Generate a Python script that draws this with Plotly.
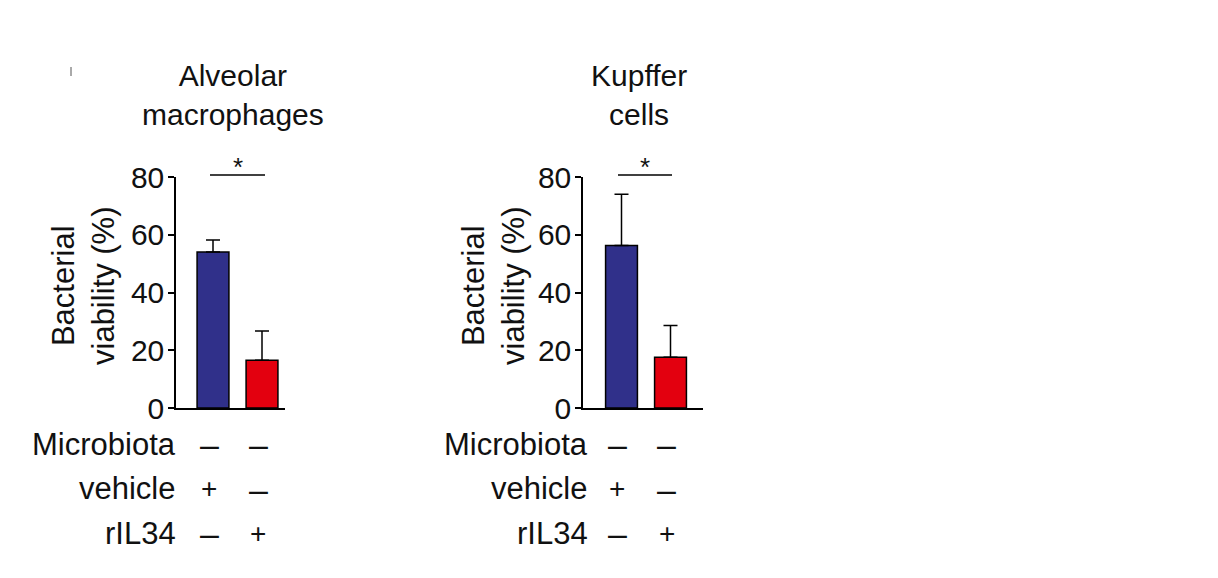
import plotly.graph_objects as go

W, H = 1218, 578
OFF = 8  # page body margin

groups = ["vehicle", "rIL34"]
panel_titles = ["Alveolar<br>macrophages", "Kupffer<br>cells"]
am_means = [54.0, 16.5]
am_err = [4.2, 10.2]
kc_means = [56.3, 17.6]
kc_err = [17.7, 11.0]
colors = ["#30308a", "#e3000f"]
row_labels = ["Microbiota", "vehicle", "rIL34"]
row_signs = [["–", "–"], ["+", "–"], ["–", "+"]]
y_ticks = [0, 20, 40, 60, 80]
FONT = "Liberation Sans, Arial, sans-serif"
FS = 30

def px(x):
    return (x - OFF) / W

def py(y):
    return 1 - (y - OFF) / H

fig = go.Figure()

panels = [
    dict(means=am_means, err=am_err, xa="x", ya="y", x0=176, x1=285, c0=213, c1=262,
         title_x=233, ytitle_x=83, lab_right=178, sym=[209, 258], sig=(210, 265), star=238),
    dict(means=kc_means, err=kc_err, xa="x2", ya="y2", x0=583, x1=703, c0=621.5, c1=670.5,
         title_x=639, ytitle_x=493, lab_right=590, sym=[617, 667], sig=(618, 672), star=645),
]

y_top, y_bot = 177, 408

for i, p in enumerate(panels):
    fig.add_trace(go.Bar(
        x=[0, 1], y=p["means"], width=0.65,
        marker=dict(color=colors, line=dict(color="black", width=1.5)),
        error_y=dict(type="data", symmetric=False, array=p["err"], arrayminus=[0, 0],
                     color="black", thickness=1.5, width=7),
        xaxis=p["xa"], yaxis=p["ya"], showlegend=False,
    ))
    unit = p["c1"] - p["c0"]
    xr = [-(p["c0"] - p["x0"]) / unit, 1 + (p["x1"] - p["c1"]) / unit]
    sfx = "" if i == 0 else "2"
    fig.layout["xaxis" + sfx] = dict(
        domain=[px(p["x0"]), px(p["x1"])], range=xr, showline=True, linecolor="black",
        linewidth=1.5, showticklabels=False, ticks="", showgrid=False, zeroline=False,
        anchor="y" + sfx, automargin=False, fixedrange=True,
    )
    fig.layout["yaxis" + sfx] = dict(
        domain=[py(y_bot), py(y_top)], range=[0, 80], tickvals=y_ticks,
        showline=True, linecolor="black", linewidth=1.5, ticks="outside", ticklen=6,
        tickwidth=1.5, tickcolor="black", showgrid=False, zeroline=False,
        tickfont=dict(family=FONT, size=FS, color="#111"), anchor="x" + sfx,
        automargin=False, fixedrange=True, ticklabelstandoff=-2,
    )
    # panel title
    fig.add_annotation(x=px(p["title_x"]), y=py(95), xref="paper", yref="paper",
                       text=panel_titles[i], showarrow=False,
                       font=dict(family=FONT, size=FS, color="#111"),
                       xanchor="center", yanchor="middle")
    # y-axis title
    fig.add_annotation(x=px(p["ytitle_x"]), y=py(286), xref="paper", yref="paper",
                       text="Bacterial<br>viability (%)", textangle=-90, showarrow=False,
                       font=dict(family=FONT, size=31, color="#111"),
                       xanchor="center", yanchor="middle")
    # significance bar
    fig.add_shape(type="line", xref="paper", yref="paper",
                  x0=px(p["sig"][0]), x1=px(p["sig"][1]), y0=py(175), y1=py(175),
                  line=dict(color="black", width=1.5))
    fig.add_annotation(x=px(p["star"]), y=py(167), xref="paper", yref="paper",
                       text="*", showarrow=False,
                       font=dict(family=FONT, size=26, color="#111"),
                       xanchor="center", yanchor="middle")
    # condition table
    for r, (lab, signs) in enumerate(zip(row_labels, row_signs)):
        yy = py(444 + 44.5 * r)
        fig.add_annotation(x=px(p["lab_right"]), y=yy, xref="paper", yref="paper",
                           text=lab, showarrow=False,
                           font=dict(family=FONT, size=31, color="#111"),
                           xanchor="right", yanchor="middle")
        for j, s in enumerate(signs):
            fig.add_annotation(x=px(p["sym"][j]), y=yy, xref="paper", yref="paper",
                               text=s, showarrow=False,
                               font=dict(family=FONT, size=34 if s == "–" else 28,
                                         color="#111"),
                               xanchor="center", yanchor="middle")

# small stray mark at top-left
fig.add_shape(type="line", xref="paper", yref="paper", x0=px(71), x1=px(71),
              y0=py(67), y1=py(76), line=dict(color="#555", width=1))

fig.update_layout(
    width=W, height=H, margin=dict(l=0, r=0, t=0, b=0, pad=0, autoexpand=False),
    plot_bgcolor="white", paper_bgcolor="white", bargap=0.3,
)

fig.write_html("out.html")
